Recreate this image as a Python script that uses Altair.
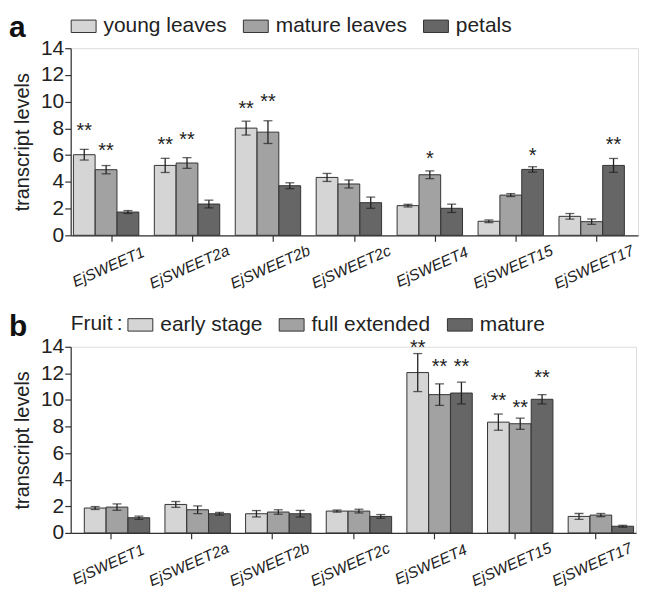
import altair as alt
import pandas as pd

genes = ["EjSWEET1", "EjSWEET2a", "EjSWEET2b", "EjSWEET2c", "EjSWEET4", "EjSWEET15", "EjSWEET17"]

# Panel a: tissues
tissues = ["young leaves", "mature leaves", "petals"]
young = [6.03, 5.23, 8.02, 4.33, 2.22, 1.05, 1.42]
young_err = [0.40, 0.53, 0.52, 0.30, 0.10, 0.10, 0.21]
mature_leaves = [4.91, 5.41, 7.72, 3.84, 4.53, 3.01, 1.02]
mature_leaves_err = [0.31, 0.40, 0.85, 0.30, 0.29, 0.11, 0.20]
petals = [1.74, 2.34, 3.71, 2.44, 2.02, 4.93, 5.23]
petals_err = [0.11, 0.29, 0.22, 0.42, 0.31, 0.20, 0.52]
stars_a_gene = ["EjSWEET1", "EjSWEET1", "EjSWEET2a", "EjSWEET2a", "EjSWEET2b", "EjSWEET2b", "EjSWEET4", "EjSWEET15", "EjSWEET17"]
stars_a_series = ["young leaves", "mature leaves", "young leaves", "mature leaves", "young leaves", "mature leaves", "mature leaves", "petals", "petals"]
stars_a_text = ["**", "**", "**", "**", "**", "**", "*", "*", "**"]
stars_a_y = [8.15, 6.65, 7.1, 7.52, 9.84, 10.31, 6.08, 6.28, 7.1]

# Panel b: fruit stages
stages = ["early stage", "full extended", "mature"]
early = [1.87, 2.14, 1.44, 1.64, 12.06, 8.33, 1.24]
early_err = [0.11, 0.22, 0.24, 0.08, 1.43, 0.61, 0.22]
full = [1.94, 1.74, 1.57, 1.64, 10.40, 8.21, 1.34]
full_err = [0.24, 0.29, 0.17, 0.14, 0.81, 0.42, 0.12]
mature_fruit = [1.14, 1.44, 1.44, 1.24, 10.52, 10.05, 0.50]
mature_fruit_err = [0.12, 0.10, 0.25, 0.14, 0.82, 0.35, 0.07]
stars_b_gene = ["EjSWEET4", "EjSWEET4", "EjSWEET4", "EjSWEET15", "EjSWEET15", "EjSWEET15"]
stars_b_series = ["early stage", "full extended", "mature", "early stage", "full extended", "mature"]
stars_b_text = ["**", "**", "**", "**", "**", "**"]
stars_b_y = [14.3, 12.88, 12.88, 10.27, 9.78, 12.0]

colors = ["#d5d5d5", "#a2a2a2", "#666666"]
FONT = "Liberation Sans"


def build_df(series_names, values, errors):
    rows = []
    for s, vals, errs in zip(series_names, values, errors):
        for g, v, e in zip(genes, vals, errs):
            rows.append({"gene": g, "series": s, "value": v, "lo": v - e, "hi": v + e})
    return pd.DataFrame(rows)


def panel(df, stars, order, letter, legend_title, width, height, title_pad):
    xscale = alt.Scale(type="band", paddingInner=0.19, paddingOuter=0.1)
    xaxis = alt.Axis(title=None, labelAngle=336, labelAlign="center", labelBaseline="top",
                     labelFontStyle="italic", labelFontSize=15.5, labelFont=FONT,
                     labelColor="#222", labelPadding=19, labelOffset=-6, tickSize=6,
                     tickColor="#333", domainColor="#333", domainWidth=1.2,
                     tickWidth=1.2, labelOverlap=False)
    x = alt.X("gene:N", sort=genes, scale=xscale, axis=xaxis)
    xo = alt.XOffset("series:N", sort=order,
                     scale=alt.Scale(type="band", paddingInner=0, paddingOuter=0))
    yscale = alt.Scale(domain=[0, 14], nice=False)
    yaxis = alt.Axis(values=[0, 2, 4, 6, 8, 10, 12, 14], grid=False, title="transcript levels",
                     titleFontSize=20, titleFont=FONT, titleFontWeight="normal",
                     titleColor="#222", titlePadding=title_pad, labelOverlap=False,
                     labelFontSize=21, labelFont=FONT, labelColor="#222",
                     labelPadding=1, tickSize=6, tickColor="#333", tickWidth=1.2,
                     domainColor="#333", domainWidth=1.2)

    def Y(field):
        return alt.Y(field, scale=yscale, axis=yaxis)

    legend = alt.Legend(orient="top", direction="horizontal", title=legend_title,
                        titleOrient="left", titleFontSize=21, titleFont=FONT,
                        titleFontWeight="normal", titleColor="#222", titlePadding=4,
                        labelFontSize=21, labelFont=FONT, labelColor="#222",
                        symbolType="M-1,-0.5H1V0.5H-1Z", symbolSize=625,
                        symbolStrokeColor="#333", symbolStrokeWidth=1,
                        labelOffset=7, columnPadding=14, offset=12, padding=0)
    base = alt.Chart(df)
    bars = base.mark_bar(stroke="#333", strokeWidth=1, width=21.8).encode(
        x=x, xOffset=xo, y=Y("value:Q"),
        color=alt.Color("series:N", sort=order,
                        scale=alt.Scale(domain=order, range=colors), legend=legend))
    err = base.mark_rule(color="#222", strokeWidth=1.3).encode(
        x=x, xOffset=xo, y=Y("lo:Q"), y2="hi:Q")
    cap_lo = base.mark_tick(color="#222", size=9, thickness=1.3).encode(
        x=x, xOffset=xo, y=Y("lo:Q"))
    cap_hi = base.mark_tick(color="#222", size=9, thickness=1.3).encode(
        x=x, xOffset=xo, y=Y("hi:Q"))
    star = alt.Chart(stars).mark_text(fontSize=20, font=FONT, color="#222",
                                      baseline="alphabetic", dy=11).encode(
        x=x, xOffset=xo, y=Y("y:Q"), text="t:N")
    lab = alt.Chart(pd.DataFrame({"t": [letter]})).mark_text(
        fontSize=30, fontWeight="bold", font=FONT, color="#111", align="left",
        baseline="middle").encode(x=alt.value(-62), y=alt.value(-20), text="t:N")
    return alt.layer(bars, err, cap_lo, cap_hi, star, lab).properties(width=width, height=height)


df_a = build_df(tissues, [young, mature_leaves, petals], [young_err, mature_leaves_err, petals_err])
df_b = build_df(stages, [early, full, mature_fruit], [early_err, full_err, mature_fruit_err])
stars_a = pd.DataFrame({"gene": stars_a_gene, "series": stars_a_series, "t": stars_a_text, "y": stars_a_y})
stars_b = pd.DataFrame({"gene": stars_b_gene, "series": stars_b_series, "t": stars_b_text, "y": stars_b_y})

pa = panel(df_a, stars_a, tissues, "a", None, 570, 188, 8)
pb = panel(df_b, stars_b, stages, "b", "Fruit\u2009:", 568, 187, 8)

chart = alt.vconcat(pa, pb, spacing=18).resolve_scale(color="independent", x="independent", y="independent").properties(
    padding={"left": 0, "top": 3, "right": 0, "bottom": 0}
).configure_view(stroke=None).configure(background="white")

chart.save("out.html", embed_options={"renderer": "svg", "actions": False})
